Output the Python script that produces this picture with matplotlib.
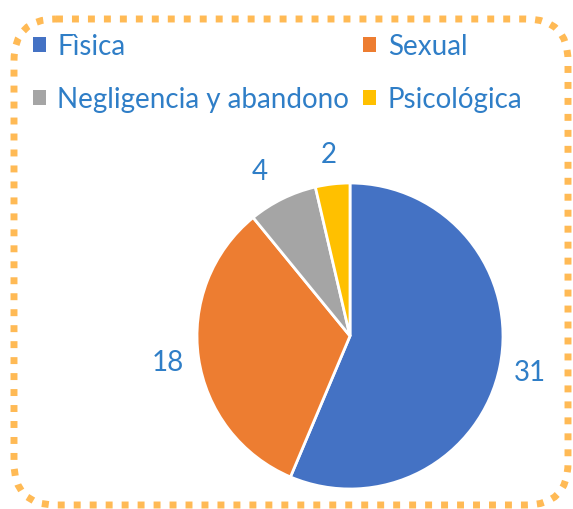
import matplotlib
matplotlib.use("Agg")
import matplotlib.pyplot as plt
from matplotlib.patches import FancyBboxPatch, Patch

categories = ["Fìsica", "Sexual", "Negligencia y abandono", "Psicológica"]
values = [31, 18, 4, 2]
colors = ["#4472C4", "#ED7D31", "#A5A5A5", "#FFC000"]
text_color = "#2F7EC7"

plt.rcParams["font.family"] = ["Lato", "DejaVu Sans"]

W, H = 573, 510
fig = plt.figure(figsize=(W / 100, H / 100), dpi=100)

# background axes in pixel coords for the dotted border
bg = fig.add_axes([0, 0, 1, 1])
bg.set_xlim(0, W)
bg.set_ylim(H, 0)
bg.axis("off")
border = FancyBboxPatch(
    (14, 20), 554, 486,
    boxstyle="round,pad=0,rounding_size=42",
    fill=False,
    edgecolor="#FFBA55",
    linewidth=5,
    linestyle=(0, (1, 1.3)),
)
border.set_capstyle("butt")
bg.add_patch(border)

# pie
cx, cy, r = 350, 337, 153
ax = fig.add_axes([(cx - r) / W, (H - cy - r) / H, 2 * r / W, 2 * r / H])
wedges, texts = ax.pie(
    values,
    colors=colors,
    labels=[str(v) for v in values],
    startangle=90,
    counterclock=False,
    labeldistance=1.2,
    wedgeprops=dict(edgecolor="white", linewidth=2),
    textprops=dict(color=text_color, fontsize=20),
)
for t in texts:
    t.set_ha("center")
    t.set_va("center")
texts[2].set_x(texts[2].get_position()[0] - 0.06)
ax.set_xlim(-1, 1)
ax.set_ylim(-1, 1)

# legend, row-wise order
order = [0, 2, 1, 3]
handles = [Patch(facecolor=colors[i], edgecolor="none") for i in order]
leg = fig.legend(
    handles,
    [categories[i] for i in order],
    ncol=2,
    loc="upper left",
    bbox_to_anchor=(33 / W, 1 - 34 / H),
    frameon=False,
    fontsize=20,
    handlelength=0.45,
    handleheight=0.45,
    handletextpad=0.43,
    columnspacing=0.5,
    labelspacing=0.97,
    borderpad=0,
    borderaxespad=0,
)
for t in leg.get_texts():
    t.set_color(text_color)

fig.savefig("out.png", dpi=100)
